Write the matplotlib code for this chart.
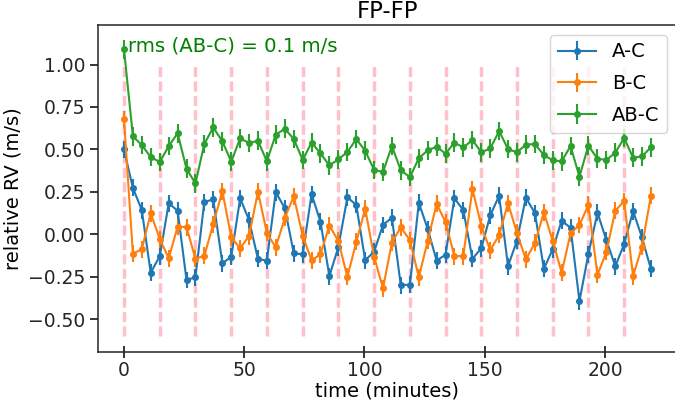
import matplotlib
matplotlib.use("Agg")
import matplotlib.pyplot as plt

# time of each exposure (minutes)
time = [0.0, 3.7, 7.4, 11.1, 14.9, 18.6, 22.3, 26.0, 29.7, 33.4,
        37.1, 40.9, 44.6, 48.3, 52.0, 55.7, 59.4, 63.1, 66.9, 70.6,
        74.3, 78.0, 81.7, 85.4, 89.1, 92.9, 96.6, 100.3, 104.0, 107.7,
        111.4, 115.1, 118.9, 122.6, 126.3, 130.0, 133.7, 137.4, 141.1, 144.9,
        148.6, 152.3, 156.0, 159.7, 163.4, 167.1, 170.9, 174.6, 178.3, 182.0,
        185.7, 189.4, 193.1, 196.9, 200.6, 204.3, 208.0, 211.7, 215.4, 219.1]

rv_ac = [0.500, 0.273, 0.143, -0.226, -0.128, 0.183, 0.139, -0.269, -0.253, 0.190,
         0.206, -0.171, -0.132, 0.212, 0.084, -0.145, -0.155, 0.249, 0.153, -0.112,
         -0.118, 0.237, 0.074, -0.246, -0.077, 0.218, 0.173, -0.153, -0.102, 0.055,
         0.098, -0.299, -0.297, 0.186, 0.031, -0.155, -0.120, 0.212, 0.143, -0.144,
         -0.082, 0.112, 0.227, -0.187, -0.038, 0.216, 0.125, -0.203, -0.088, 0.080,
         0.039, -0.393, -0.118, 0.127, -0.034, -0.188, -0.057, 0.137, -0.018, -0.204]

rv_bc = [0.677, -0.114, -0.088, 0.124, -0.028, -0.141, 0.045, 0.043, -0.144, -0.126,
         0.059, 0.255, -0.018, -0.082, -0.010, 0.251, 0.009, -0.077, 0.098, 0.224,
         -0.008, -0.153, -0.118, 0.051, -0.038, -0.251, -0.045, 0.151, -0.132, -0.318,
         -0.049, 0.041, -0.034, -0.253, -0.039, 0.180, 0.072, -0.128, -0.128, 0.267,
         0.049, -0.094, -0.004, 0.183, 0.009, -0.147, -0.051, 0.130, -0.039, -0.226,
         0.006, 0.055, 0.173, -0.238, -0.104, 0.139, 0.196, -0.246, -0.073, 0.227]

rv_abc = [1.090, 0.577, 0.526, 0.455, 0.426, 0.520, 0.595, 0.386, 0.300, 0.532,
          0.630, 0.548, 0.428, 0.565, 0.538, 0.551, 0.430, 0.587, 0.622, 0.561,
          0.438, 0.540, 0.477, 0.406, 0.441, 0.485, 0.561, 0.492, 0.379, 0.367,
          0.520, 0.377, 0.337, 0.448, 0.495, 0.516, 0.475, 0.540, 0.512, 0.555,
          0.483, 0.506, 0.608, 0.502, 0.483, 0.528, 0.532, 0.467, 0.436, 0.430,
          0.520, 0.339, 0.522, 0.445, 0.438, 0.481, 0.567, 0.451, 0.459, 0.512]

err_ac = 0.05
err_bc = 0.05
err_abc = 0.055
rms_abc = 0.1

fig = plt.figure(figsize=(6.75, 4.05), dpi=100)
ax = fig.add_axes([0.1447, 0.1309, 0.8582, 0.8074])

# FP calibration times
ax.vlines(time[::4], -0.6, 1.0, colors='pink', linewidth=2.5,
          linestyles=(0, (2.9, 1.25)), zorder=1)

ax.errorbar(time, rv_ac, yerr=err_ac, fmt='-o', ms=4, lw=1.5, color='C0', label='A-C', zorder=3)
ax.errorbar(time, rv_bc, yerr=err_bc, fmt='-o', ms=4, lw=1.5, color='C1', label='B-C', zorder=3)
ax.errorbar(time, rv_abc, yerr=err_abc, fmt='-o', ms=4, lw=1.5, color='C2', label='AB-C', zorder=3)

ax.text(0.052, 0.92, f'rms (AB-C) = {rms_abc} m/s', transform=ax.transAxes,
        ha='left', va='baseline', color='green', fontsize=14.2)

ax.set_xlim(-10.95, 229.95)
ax.set_ylim(-0.693, 1.233)
ax.set_yticks([-0.5, -0.25, 0, 0.25, 0.5, 0.75, 1.0])
ax.set_xticks([0, 50, 100, 150, 200])

ax.set_title('FP-FP', fontsize=16.5, pad=5)
ax.set_xlabel('time (minutes)', fontsize=14, labelpad=1)
ax.set_ylabel('relative RV (m/s)', fontsize=14)

ax.tick_params(axis='x', direction='inout', length=8.5, width=1.3, labelsize=13.5, pad=2, colors='0.15')
ax.tick_params(axis='y', direction='out', length=5.5, width=1.3, labelsize=13.5, colors='0.15')
for s in ax.spines.values():
    s.set_linewidth(1.1)
    s.set_color('0.15')

ax.legend(loc='upper right', fontsize=14, labelspacing=0.65)

fig.savefig('out.png', dpi=100)
